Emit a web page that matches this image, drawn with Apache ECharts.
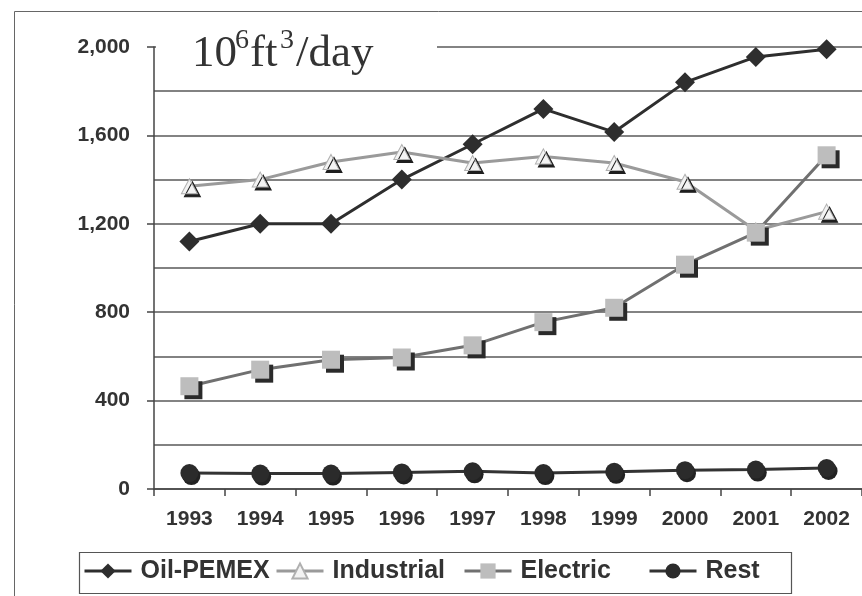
<!DOCTYPE html>
<html>
<head>
<meta charset="utf-8">
<script src="https://cdn.jsdelivr.net/npm/echarts@6/dist/echarts.min.js"></script>
<style>
  html, body { margin: 0; padding: 0; background: #ffffff; }
  #chart { width: 862px; height: 596px; }
</style>
</head>
<body>
<div id="chart"></div>
<script>
// Natural gas demand by sector, 10^6 ft^3/day
const years = ['1993', '1994', '1995', '1996', '1997', '1998', '1999', '2000', '2001', '2002'];
const oilPemex   = [1120, 1200, 1200, 1400, 1560, 1720, 1615, 1840, 1955, 1990];
const industrial = [1370, 1400, 1480, 1525, 1475, 1505, 1475, 1390, 1170, 1255];
const electric   = [465, 540, 585, 595, 650, 755, 820, 1015, 1160, 1510];
const rest       = [72, 70, 70, 75, 80, 72, 78, 85, 88, 95];
const seriesNames = ['Oil-PEMEX', 'Industrial', 'Electric', 'Rest'];

const TEXT = '#333333';
const SANS = 'Liberation Sans, Arial, sans-serif';
const SERIF = 'Liberation Serif, Times New Roman, serif';

const chart = echarts.init(document.getElementById('chart'), null, { renderer: 'canvas' });

function legendAt(name, left) {
  return {
    show: true,
    data: [name],
    left: left,
    top: 556,
    padding: 0,
    itemWidth: 47,
    itemHeight: 19,
    itemGap: 0,
    selectedMode: false,
    lineStyle: { width: 3 },
    itemStyle: { shadowColor: 'rgba(0,0,0,0)', shadowOffsetX: 0, shadowOffsetY: 0, shadowBlur: 0 },
    textStyle: {
      color: TEXT, fontFamily: SANS, fontWeight: 'bold', fontSize: 25,
      lineHeight: 30, padding: [0, 0, 0, 4]
    }
  };
}

// Unit label pieces: base text and superscripts
function unitPiece(text, left, top, size) {
  return {
    type: 'text', left: left, top: top, silent: true, z: 11,
    style: { text: text, fill: TEXT, fontFamily: SERIF, fontSize: size }
  };
}

const option = {
  backgroundColor: '#ffffff',
  animation: false,
  grid: { left: 154, right: -10, top: 47, bottom: 107, containLabel: false },
  xAxis: {
    type: 'category',
    data: years,
    boundaryGap: true,
    axisLine: { show: true, lineStyle: { color: '#444', width: 1.5 } },
    axisTick: { show: true, length: 7, lineStyle: { color: '#444', width: 1.5 } },
    axisLabel: { color: TEXT, fontFamily: SANS, fontWeight: 'bold', fontSize: 21, margin: 20 },
    splitLine: { show: false }
  },
  yAxis: {
    type: 'value',
    min: 0,
    max: 2000,
    interval: 400,
    axisLine: { show: true, lineStyle: { color: '#444', width: 1.5 } },
    axisTick: { show: true, length: 7, lineStyle: { color: '#444', width: 1.5 } },
    axisLabel: { color: TEXT, fontFamily: SANS, fontWeight: 'bold', fontSize: 21, margin: 24 },
    splitLine: { show: true, lineStyle: { color: '#5a5a5a', width: 1.5 } },
    minorTick: { show: false, splitNumber: 2 },
    minorSplitLine: { show: true, lineStyle: { color: '#5a5a5a', width: 1.5 } }
  },
  legend: seriesNames.map((n, i) => legendAt(n, [83, 275, 463, 648][i])),
  series: [
    {
      name: 'Oil-PEMEX', type: 'line', data: oilPemex,
      symbol: 'diamond', symbolSize: [20, 20],
      lineStyle: { color: '#2e2e2e', width: 3 },
      itemStyle: { color: '#2e2e2e' }
    },
    {
      name: 'Industrial', type: 'line', data: industrial,
      symbol: 'triangle', symbolSize: [16, 15],
      lineStyle: { color: '#9a9a9a', width: 3 },
      itemStyle: {
        color: '#f3f3f3', borderColor: '#b0b0b0', borderWidth: 1,
        shadowColor: '#1e1e1e', shadowOffsetX: 3, shadowOffsetY: 3, shadowBlur: 0
      }
    },
    {
      name: 'Electric', type: 'line', data: electric,
      symbol: 'rect', symbolSize: [18, 18],
      lineStyle: { color: '#707070', width: 3 },
      itemStyle: {
        color: '#bdbdbd',
        shadowColor: '#2a2a2a', shadowOffsetX: 4, shadowOffsetY: 4, shadowBlur: 0
      }
    },
    {
      name: 'Rest', type: 'line', data: rest,
      symbol: 'circle', symbolSize: 18,
      lineStyle: { color: '#333333', width: 3 },
      itemStyle: {
        color: '#2b2b2b',
        shadowColor: '#222', shadowOffsetX: 2, shadowOffsetY: 3, shadowBlur: 0
      }
    }
  ],
  graphic: [
    // outer frame
    { type: 'rect', left: 12, top: 9, silent: true, z: 0,
      shape: { width: 900, height: 700 },
      style: { fill: 'none', stroke: '#666', lineWidth: 1 } },
    // white panel behind the unit label
    { type: 'rect', left: 156, top: 42, silent: true, z: 10,
      shape: { width: 281, height: 10 },
      style: { fill: '#ffffff' } },
    // unit label: 10^6 ft^3 / day
    unitPiece('10', 192, 32, 45),
    unitPiece('6', 235, 27, 28),
    unitPiece('ft', 250, 32, 45),
    unitPiece('3', 280, 27, 28),
    unitPiece('/day', 296, 32, 45),
    // legend frame
    { type: 'rect', left: 77, top: 550, silent: true, z: 0,
      shape: { width: 712, height: 41 },
      style: { fill: 'none', stroke: '#555', lineWidth: 1.2 } }
  ]
};

chart.setOption(option);
</script>
</body>
</html>
